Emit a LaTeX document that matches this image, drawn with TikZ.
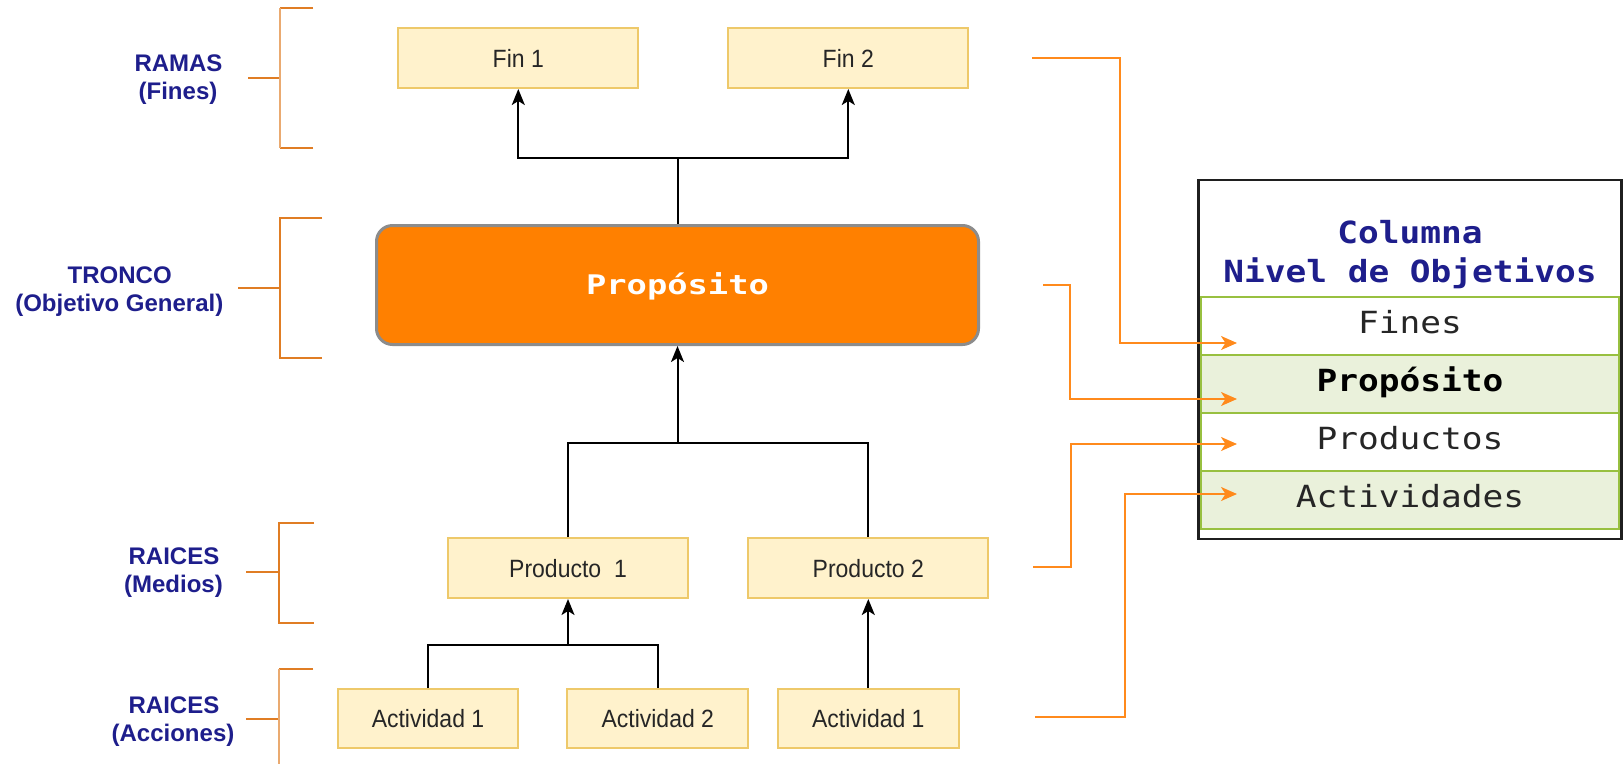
\documentclass[tikz,border=0pt]{standalone}
\usepackage{fontspec}
\setmainfont{Liberation Sans}
\newfontfamily\labfont{Liberation Sans}
\newfontfamily\boxfont[FakeStretch=0.92]{Liberation Sans}
\newfontfamily\tabfont[FakeStretch=1.13]{DejaVu Sans Mono}
\newfontfamily\propfont[FakeStretch=1.25]{DejaVu Sans Mono}
\usetikzlibrary{arrows.meta}
\definecolor{boxfill}{HTML}{FFF2CC}
\definecolor{boxdraw}{HTML}{EEC96A}
\definecolor{orangeA}{HTML}{FF8000}
\definecolor{orangeL}{HTML}{FF8A1C}
\definecolor{brk}{HTML}{E07D24}
\definecolor{brkL}{HTML}{EAAA70}
\definecolor{navy}{HTML}{1E1E8C}
\definecolor{rowgreen}{HTML}{EAF1DB}
\definecolor{rowline}{HTML}{98C040}
\definecolor{txt}{HTML}{262626}
\begin{document}
\begin{tikzpicture}[x=1pt,y=-1pt,
  item/.style={draw=boxdraw, fill=boxfill, line width=2pt, minimum height=60pt,
    font=\boxfont\fontsize{25}{30}\selectfont, text=txt, inner sep=0pt,
    text height=18pt, text depth=0pt},
  propbox/.style={draw=black!45, fill=orangeA, line width=3pt, rounded corners=16pt,
    minimum width=602pt, minimum height=119pt, inner sep=0pt,
    font=\propfont\bfseries\fontsize{27}{32}\selectfont, text=white,
    text height=19pt, text depth=0pt},
  lab/.style={font=\labfont\bfseries\fontsize{24}{28}\selectfont, text=navy, inner sep=0pt, anchor=base},
  ttl/.style={font=\tabfont\bfseries\fontsize{30.5}{36}\selectfont, text=navy, inner sep=0pt, anchor=base},
  row/.style={draw=rowline, line width=2pt, minimum width=418.6pt, minimum height=58pt,
    inner sep=0pt, font=\tabfont\fontsize{30.5}{36}\selectfont, text=txt,
    text height=22pt, text depth=6pt},
  conn/.style={draw=black, line width=2pt},
  arr/.style={conn, -{Stealth[length=16pt,width=13pt,inset=4pt]}},
  oarr/.style={draw=orangeL, line width=2pt, -{Stealth[length=16pt,width=14pt,inset=4.5pt]}},
  bk/.style={draw=brk, line width=2pt},
  bkl/.style={draw=brkL, line width=2pt}
]
\fill[white] (0,0) rectangle (1623,764);
\useasboundingbox (0,0) rectangle (1623,764);

% brackets
\draw[bk] (313,7.5) -- (280,7.5);
\draw[bk] (313,148) -- (280,148);
\draw[bk] (248,78) -- (280,78);
\draw[bkl] (280,7.5) -- (280,148);

\draw[bk] (322,218) -- (280,218) -- (280,358) -- (322,358);
\draw[bk] (238,288) -- (280,288);

\draw[bk] (314,522.7) -- (279.3,522.7) -- (279.3,622.7) -- (314,622.7);
\draw[bk] (246,572.3) -- (279.3,572.3);

\draw[bk] (313,669) -- (279.3,669);
\draw[bk] (246,718.7) -- (279.3,718.7);
\draw[bkl] (279.3,669) -- (279.3,764);

% labels
\node[lab] (l1a) at (178.5,71) {RAMAS};
\node[lab] (l1b) at (178,99) {(Fines)};
\node[lab] (l2a) at (119.7,283.3) {TRONCO};
\node[lab] (l2b) at (119.3,311.3) {(Objetivo General)};
\node[lab] (l3a) at (174,564) {RAICES};
\node[lab] (l3b) at (173.5,592.5) {(Medios)};
\node[lab] (l4a) at (174,713.3) {RAICES};
\node[lab] (l4b) at (173,741.5) {(Acciones)};

% tree nodes
\node[item, minimum width=240pt] (fin1) at (518.3,58) {Fin 1};
\node[item, minimum width=240pt] (fin2) at (848.3,58) {Fin 2};
\node[propbox] (prop) at (677.5,285) {Propósito};
\node[item, minimum width=240pt] (prod1) at (568,568) {Producto\ \ 1};
\node[item, minimum width=240pt] (prod2) at (868.3,568) {Producto 2};
\node[item, minimum width=180pt, minimum height=59pt] (act1) at (428,718.5) {Actividad 1};
\node[item, minimum width=181pt, minimum height=59pt] (act2) at (657.8,718.5) {Actividad 2};
\node[item, minimum width=181pt, minimum height=59pt] (act3) at (868.3,718.5) {Actividad 1};

\coordinate (jtop) at (677.5,158);
\coordinate (jmid) at (677.5,443);
\coordinate (jact) at (568,644.5);

\draw[conn] (prop.north) -- (jtop);
\draw[arr] (jtop) -| (fin1.south);
\draw[arr] (jtop) -| (fin2.south);

\draw[conn] (prod1.north) |- (jmid) -| (prod2.north);
\draw[arr] (jmid) -- (prop.south);

\draw[conn] (act1.north) |- (jact) -| (act2.north);
\draw[arr] (jact) -- (prod1.south);
\draw[arr] (act3.north) -- (prod2.south);

% table
\node[draw=black!88, line width=2.5pt, fill=white, minimum width=423.4pt, minimum height=359pt, inner sep=0pt] (tbl) at (1410,359.5) {};
\node[ttl] (t1) at (1410,243.3) {Columna};
\node[ttl] (t2) at (1410,282.7) {Nivel de Objetivos};
\node[row, fill=white] (r1) at (1410,325.5) {Fines};
\node[row, fill=rowgreen, font=\tabfont\bfseries\fontsize{30.5}{36}\selectfont, text=black] (r2) at (1410,383.6) {Propósito};
\node[row, fill=white] (r3) at (1410,441.7) {Productos};
\node[row, fill=rowgreen] (r4) at (1410,499.8) {Actividades};

% orange connectors
\coordinate (s1) at (1032,58);
\coordinate (e1) at (1237,343);
\coordinate (s2) at (1043,285);
\coordinate (e2) at (1237,399);
\coordinate (s3) at (1033,567);
\coordinate (e3) at (1237,444);
\coordinate (s4) at (1035,717);
\coordinate (e4) at (1237,494);
\draw[oarr] (s1) -- ++(88,0) |- (e1);
\draw[oarr] (s2) -- ++(27,0) |- (e2);
\draw[oarr] (s3) -- ++(38,0) |- (e3);
\draw[oarr] (s4) -- ++(90,0) |- (e4);
\end{tikzpicture}
\end{document}
